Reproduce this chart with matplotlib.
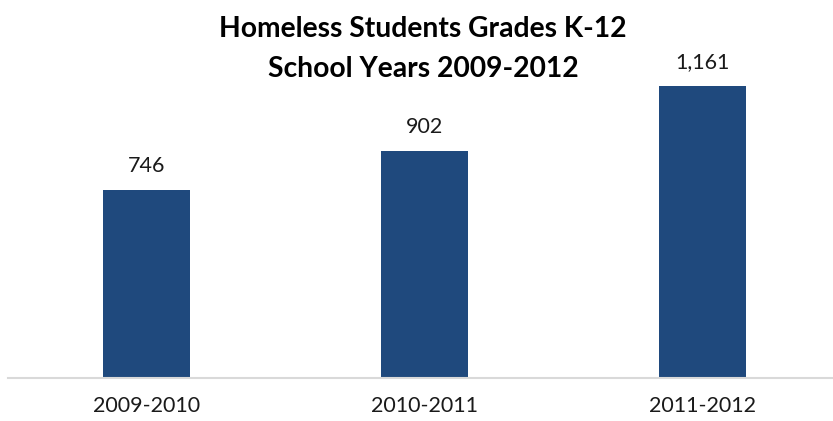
import matplotlib.pyplot as plt

years = ['2009-2010', '2010-2011', '2011-2012']
students = [746, 902, 1161]

plt.rcParams['font.family'] = ['Lato', 'DejaVu Sans']

fig = plt.figure(figsize=(8.33, 4.21), dpi=100)
ax = fig.add_axes([7.5 / 833, 43 / 421, 834 / 833, 352 / 421])

x = range(len(years))
bars = ax.bar(x, students, width=0.313, color='#1f497d')
for b, v in zip(bars, students):
    ax.annotate(f'{v:,}', (b.get_x() + b.get_width() / 2, v),
                xytext=(0, 13), textcoords='offset points',
                ha='center', va='baseline', fontsize=15.5, color='#1a1a1a')

ax.set_xlim(-0.5, 2.5)
ax.set_ylim(0, 1400)
ax.set_xticks(list(x))
ax.set_xticklabels(years, fontsize=15.5, color='#1a1a1a')
ax.tick_params(axis='x', length=0, pad=13)
ax.set_yticks([])
for s in ['top', 'right', 'left']:
    ax.spines[s].set_visible(False)
ax.spines['bottom'].set_color('#d9d9d9')
ax.spines['bottom'].set_linewidth(1.5)

# two-line title, each line placed on its own
fig.text(423 / 833, 1 - 37 / 421, 'Homeless Students Grades K-12',
         ha='center', va='baseline', fontsize=20.3, fontweight='bold', color='black')
fig.text(423 / 833, 1 - 77 / 421, 'School Years 2009-2012',
         ha='center', va='baseline', fontsize=20.3, fontweight='bold', color='black')

fig.savefig('out.png', dpi=100)
